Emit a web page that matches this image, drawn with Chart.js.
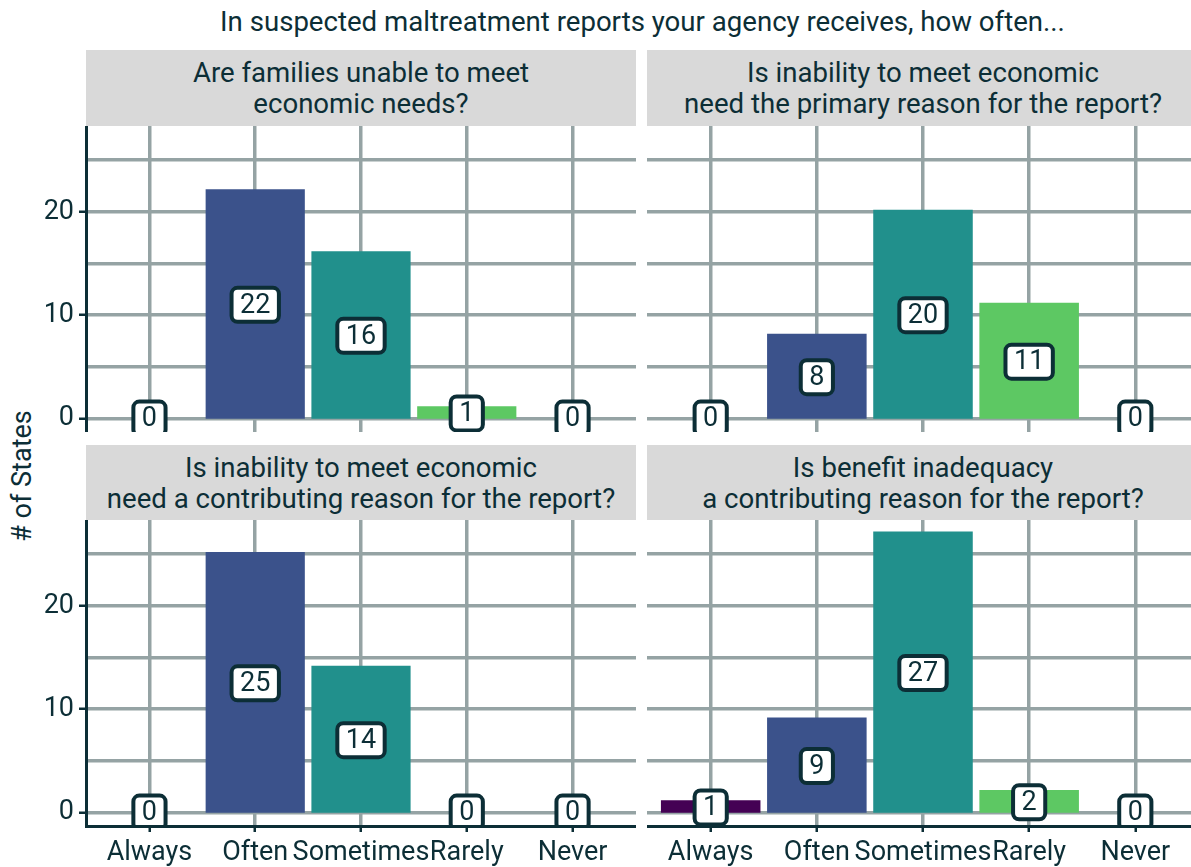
<!DOCTYPE html>
<html>
<head>
<meta charset="utf-8">
<script src="https://cdn.jsdelivr.net/npm/chart.js@4/dist/chart.umd.min.js"></script>
<style>
  html, body { margin: 0; padding: 0; background: #fff; overflow: hidden; }
  #page { position: relative; width: 1191px; height: 867px; overflow: hidden; font-family: Roboto, sans-serif; color: #0c2e36; }
  .title { position: absolute; left: 86px; width: 1113px; top: 6px; text-align: center; font-size: 27.6px; line-height: 32px; }
  .strip { position: absolute; background: #d9d9d9; display: flex; align-items: center; justify-content: center;
           text-align: center; font-size: 27.6px; line-height: 31px; white-space: pre-line; }
  .ytitle { position: absolute; left: 22px; top: 476px; transform: translate(-50%, -50%) rotate(-90deg);
            font-size: 27px; white-space: nowrap; }
  canvas { position: absolute; }
</style>
</head>
<body>
<div id="page">
  <div class="title">In suspected maltreatment reports your agency receives, how often...</div>
  <div class="ytitle"># of States</div>
</div>
<script>
const categories = ['Always', 'Often', 'Sometimes', 'Rarely', 'Never'];
const barColors = ['#440154', '#3b528b', '#21908c', '#5dc863', '#fde725'];

const panelTitles = [
    'Are families unable to meet\neconomic needs?',
    'Is inability to meet economic\nneed the primary reason for the report?',
    'Is inability to meet economic\nneed a contributing reason for the report?',
    'Is benefit inadequacy\na contributing reason for the report?'
];

const familiesUnable = [0, 22, 16, 1, 0];
const primaryReason = [0, 8, 20, 11, 0];
const contributingReason = [0, 25, 14, 0, 0];
const benefitInadequacy = [1, 9, 27, 2, 0];

const dark = '#0c2e36';
const gridColor = '#95a3a4';
const fontSize = 27;

// geom_label style boxes at half bar height
const valueLabels = {
    id: 'valueLabels',
    afterDatasetsDraw(chart) {
        const {ctx, chartArea, scales} = chart;
        const meta = chart.getDatasetMeta(0);
        const data = chart.data.datasets[0].data;
        ctx.save();
        ctx.beginPath();
        ctx.rect(chartArea.left, chartArea.top, chartArea.right - chartArea.left, chartArea.bottom - chartArea.top);
        ctx.clip();
        ctx.font = fontSize + 'px Roboto';
        ctx.textAlign = 'center';
        ctx.textBaseline = 'middle';
        meta.data.forEach((bar, i) => {
            const v = data[i].y;
            const text = String(v);
            const x = bar.x;
            const y = scales.y.getPixelForValue(v / 2);
            const w = ctx.measureText(text).width + 17;
            const h = 34;
            ctx.beginPath();
            ctx.roundRect(x - w / 2, y - h / 2, w, h, 6);
            ctx.fillStyle = '#fff';
            ctx.fill();
            ctx.lineWidth = 4;
            ctx.strokeStyle = dark;
            ctx.stroke();
            ctx.fillStyle = dark;
            ctx.fillText(text, x, y + 1);
        });
        ctx.restore();
    }
};

const panels = [
    {values: familiesUnable, left: 0, top: 126, width: 636, height: 306, showY: true, showX: false},
    {values: primaryReason, left: 647, top: 126, width: 552, height: 306, showY: false, showX: false},
    {values: contributingReason, left: 0, top: 520, width: 636, height: 347, showY: true, showX: true},
    {values: benefitInadequacy, left: 647, top: 520, width: 552, height: 347, showY: false, showX: true}
];

const page = document.getElementById('page');

panels.forEach((p, k) => {
    const yAxisW = p.showY ? 86 : 0;

    const strip = document.createElement('div');
    strip.className = 'strip';
    strip.textContent = panelTitles[k];
    strip.style.left = (p.left + yAxisW) + 'px';
    strip.style.width = (p.width - yAxisW) + 'px';
    strip.style.top = (k < 2 ? 50 : 445) + 'px';
    strip.style.height = (k < 2 ? 76 : 75) + 'px';
    page.appendChild(strip);

    const canvas = document.createElement('canvas');
    canvas.width = p.width;
    canvas.height = p.height;
    canvas.style.left = p.left + 'px';
    canvas.style.top = p.top + 'px';
    page.appendChild(canvas);

    new Chart(canvas.getContext('2d'), {
        type: 'bar',
        data: {
            datasets: [{
                data: p.values.map((v, i) => ({x: i, y: v})),
                backgroundColor: barColors,
                borderWidth: 0,
                inflateAmount: c => (c.raw && c.raw.y !== 0 ? 2 : 0),
                barPercentage: 0.9,
                categoryPercentage: 1
            }]
        },
        options: {
            responsive: false,
            animation: false,
            layout: {padding: 0},
            plugins: {legend: {display: false}, tooltip: {enabled: false}},
            scales: {
                x: {
                    type: 'linear',
                    offset: false,
                    min: -0.6,
                    max: 4.6,
                    ticks: {
                        display: p.showX,
                        stepSize: 1,
                        includeBounds: false,
                        autoSkip: false,
                        maxRotation: 0,
                        padding: 5,
                        color: dark,
                        font: {family: 'Roboto', size: fontSize},
                        callback: v => categories[v]
                    },
                    grid: {
                        offset: false,
                        color: gridColor,
                        lineWidth: 3.5,
                        drawTicks: p.showX,
                        tickLength: 6,
                        tickWidth: 2.5,
                        tickColor: dark
                    },
                    border: {display: p.showX, color: dark, width: 3, z: 1},
                    afterFit: s => {
                        s.height = p.showX ? 41 : 0;
                        s.paddingLeft = 0;
                        s.paddingRight = 0;
                    }
                },
                y: {
                    min: -1.3,
                    max: 28.3,
                    ticks: {
                        display: p.showY,
                        stepSize: 5,
                        includeBounds: false,
                        padding: 5,
                        color: dark,
                        font: {family: 'Roboto', size: fontSize},
                        callback: v => (v % 10 === 0 ? v : '')
                    },
                    grid: {
                        color: gridColor,
                        lineWidth: 3.5,
                        drawTicks: p.showY,
                        tickLength: 7,
                        tickWidth: 2.5,
                        tickColor: c => (c.tick && c.tick.value % 10 === 0 ? dark : 'rgba(0,0,0,0)')
                    },
                    border: {display: p.showY, color: dark, width: 3, z: 1},
                    afterFit: s => {
                        s.width = yAxisW;
                        s.paddingTop = 0;
                        s.paddingBottom = 0;
                    }
                }
            }
        },
        plugins: [valueLabels]
    });
});
</script>
</body>
</html>
